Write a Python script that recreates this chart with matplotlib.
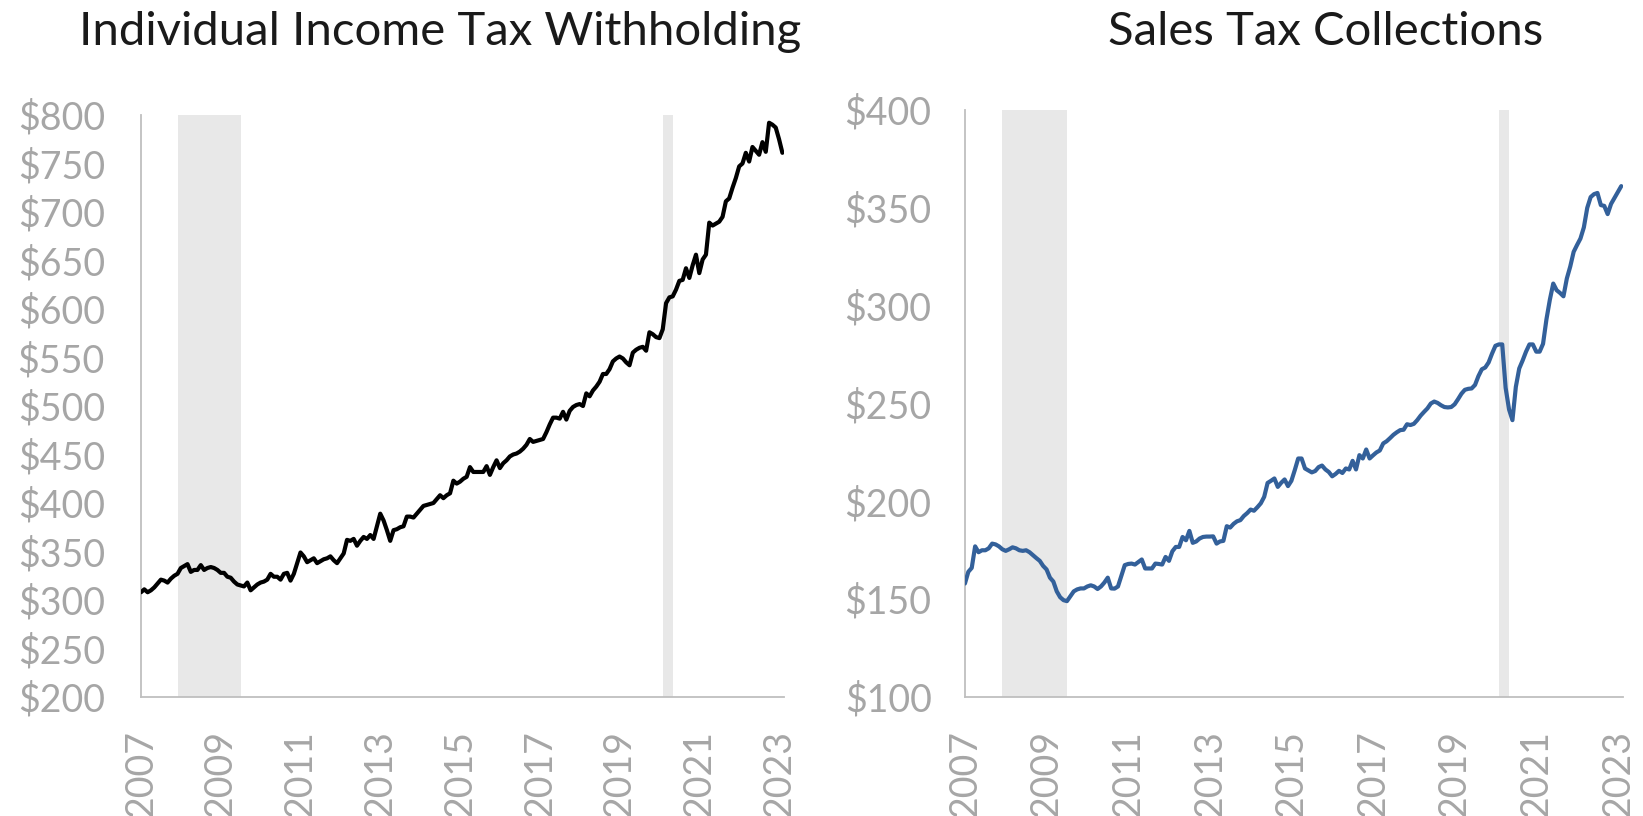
import matplotlib
matplotlib.use("Agg")
import matplotlib.pyplot as plt
import numpy as np

plt.rcParams['font.family'] = ['Lato', 'DejaVu Sans']

# Monthly data, Jan 2007 .. Feb 2023 (billions $)
withholding = [
    308, 311, 308, 310, 313, 317, 321, 320, 318, 322, 325, 327,
    333, 335, 337, 329, 331, 331, 336, 331, 333, 334, 333, 331,
    328, 328, 324, 323, 319, 316, 315, 314, 318, 310, 313, 316,
    318, 319, 321, 327, 324, 324, 321, 327, 328, 320, 327, 338,
    349, 345, 339, 341, 343, 338, 340, 342, 343, 345, 341, 338,
    343, 348, 362, 361, 363, 356, 361, 365, 363, 367, 363, 376,
    389, 382, 372, 361, 372, 373, 375, 376, 386, 386, 385, 389,
    393, 397, 398, 399, 400, 404, 408, 405, 408, 410, 423, 420,
    422, 425, 427, 437, 432, 432, 432, 432, 438, 429, 437, 444,
    436, 441, 444, 448, 450, 451, 453, 456, 460, 466, 463, 464,
    465, 466, 473, 481, 488, 488, 487, 494, 486, 495, 499, 501,
    502, 500, 513, 510, 516, 520, 525, 533, 533, 538, 546, 549,
    551, 549, 545, 542, 555, 558, 560, 561, 557, 576, 574, 571,
    570, 579, 606, 612, 613, 620, 629, 630, 642, 632, 645, 656,
    637, 651, 656, 689, 686, 688, 690, 695, 711, 714, 725, 735,
    747, 750, 761, 752, 767, 763, 759, 772, 762, 792, 790, 787,
    775, 761,
]

sales_tax = [
    158, 164, 166, 177, 174, 175, 175, 176, 178.4, 178, 177, 175.5,
    174.7, 175.5, 176.5, 176, 175, 174.7, 175, 174, 172.5, 171, 169.6, 167,
    165.2, 161, 159, 154, 151, 149.5, 149, 151.5, 154, 155, 155.5, 155.5,
    156.5, 157.1, 156.5, 155.2, 156.5, 158.5, 161, 155.5, 155.4, 156.5, 162, 167.4,
    168, 168.2, 167.7, 169, 170.3, 165.7, 165.7, 165.7, 168.2, 168, 167.7, 171.6,
    169.6, 174.5, 176.7, 176.7, 181.8, 180.1, 184.9, 178.8, 179.5, 181, 181.8, 182,
    182, 182.1, 178.4, 179.5, 179.8, 187.3, 186.6, 188.5, 189.8, 190.4, 192.5, 194,
    195.8, 195.2, 197, 199, 202.3, 209.4, 210.5, 211.7, 207.4, 209.5, 211.2, 207.8,
    210.5, 216, 221.9, 221.9, 216.8, 215.8, 214.8, 215.5, 217.5, 218.3, 216.3, 215,
    212.8, 214, 215.6, 214.5, 216.8, 216.3, 220.7, 216.3, 223.6, 221.9, 226.5, 221.9,
    223.5, 225, 226, 229.6, 230.7, 232.3, 234, 235.3, 236.4, 236.6, 239.4, 239,
    239.6, 241.5, 243.8, 245.7, 247.5, 250, 251, 250.3, 249.1, 248.2, 248, 248.2,
    249.6, 252.2, 255, 257, 257.5, 257.7, 259.5, 264, 267.5, 268.4, 271, 275.5,
    279.5, 280.2, 280.2, 258, 247, 241.5, 258.5, 267.9, 272, 276.5, 280.2, 280.2,
    276.5, 276.5, 280.5, 293, 303, 311.3, 307.9, 306.5, 304.8, 313.9, 320, 327.5,
    331, 334.3, 340, 350, 355.5, 357, 357.6, 351.4, 351, 346.8, 352, 355,
    358, 361.1,
]

year_labels = ['2007', '2009', '2011', '2013', '2015', '2017', '2019', '2021', '2023']
# recession periods as month indices from Jan 2007
recessions = [(11, 30), (157, 160)]

left_ticks = [200, 250, 300, 350, 400, 450, 500, 550, 600, 650, 700, 750, 800]
right_ticks = [100, 150, 200, 250, 300, 350, 400]

GRAY = '#a6a6a6'
SPINE = '#bfbfbf'
SHADE = '#e8e8e8'

fig = plt.figure(figsize=(16.43, 8.16), dpi=100)
axL = fig.add_axes([0.0858, 0.1458, 0.3914, 0.7133])
axR = fig.add_axes([0.5873, 0.1458, 0.4005, 0.7194])

def style(ax, series, color, yticks, ylim, pad_y):
    months = np.arange(len(series))
    for a, b in recessions:
        ax.axvspan(a, b, color=SHADE, lw=0, zorder=0)
    ax.plot(months, series, color=color, lw=3.0, solid_joinstyle='round',
            solid_capstyle='round', zorder=3)
    ax.set_xlim(0, 193.5)
    ax.set_ylim(*ylim)
    ax.set_yticks(yticks)
    ax.set_yticklabels(['$' + str(v) for v in yticks])
    ax.set_xticks(np.arange(0, 193, 24))
    ax.set_xticklabels(year_labels, rotation=90)
    for s in ['top', 'right']:
        ax.spines[s].set_visible(False)
    for s in ['left', 'bottom']:
        ax.spines[s].set_color(SPINE)
        ax.spines[s].set_linewidth(1.3)
    ax.tick_params(axis='both', length=0, colors=GRAY, labelsize=27)
    ax.tick_params(axis='y', pad=pad_y)
    ax.tick_params(axis='x', pad=24)
    for lab in ax.get_xticklabels() + ax.get_yticklabels():
        lab.set_fontweight('normal')

style(axL, withholding, '#000000', left_ticks, (200, 800), 26)
style(axR, sales_tax, '#33609a', right_ticks, (100, 400), 24)

fig.text(440 / 1643, 1 - 32 / 816, 'Individual Income Tax Withholding', ha='center', va='center',
         fontsize=34, color='#1a1a1a')
fig.text(1326 / 1643, 1 - 32 / 816, 'Sales Tax Collections', ha='center', va='center',
         fontsize=34, color='#1a1a1a')

fig.savefig('out.png', dpi=100)
